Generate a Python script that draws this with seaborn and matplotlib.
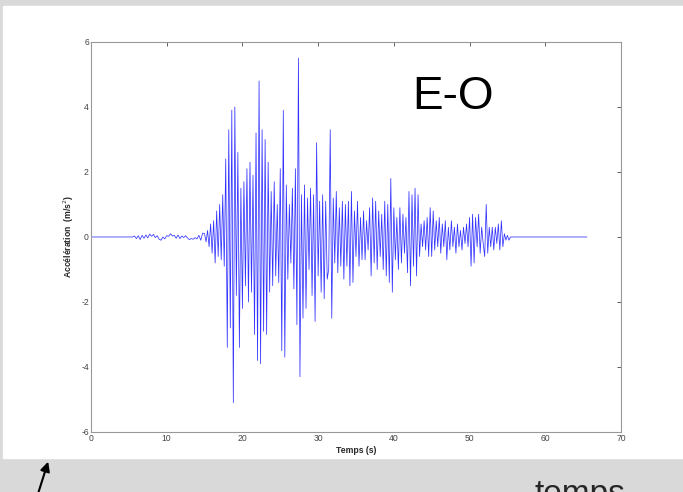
import numpy as np
import pandas as pd
import matplotlib
matplotlib.use("Agg")
import matplotlib.pyplot as plt
import seaborn as sns

# Accelerogram, E-O component (m/s^2)
quiet_start = 5.5      # s, first sample of the weak pre-event motion
quiet_dt = 0.25        # s between read samples
quiet_values = [0.0, 0.03, -0.05, 0.04, -0.08, 0.05, -0.04, 0.06, -0.03, 0.09,
                0.02, 0.08, -0.02, 0.04, -0.07, -0.10, 0.0, -0.06, 0.04, 0.02,
                0.10, 0.03, 0.05, -0.04, 0.06, -0.05, 0.03, -0.02, 0.04, -0.03,
                -0.08, -0.05, -0.07, -0.02, -0.06, 0.05, -0.10, 0.12]

strong_start = 15.0    # s, start of the strong motion
strong_dt = 0.2        # s between read peaks
strong_values = [
    0.1, -0.15, 0.2, -0.3, 0.4, -0.5, 0.5, -0.8, 0.8, -0.6,          # 15-17
    1.0, -0.7, 1.3, -0.9, 2.4, -3.4, 3.3, -2.8, 3.9, -5.1,           # 17-19
    4.0, -1.8, 2.6, -3.4, 1.5, -2.2, 1.7, -1.5, 2.1, -2.0,           # 19-21
    2.3, -1.7, 1.9, -3.0, 3.2, -3.8, 4.8, -3.9, 3.3, -2.9,           # 21-23
    3.0, -3.0, 2.3, -1.7, 1.4, -1.5, 1.7, -1.2, 1.0, -1.4,           # 23-25
    2.1, -3.5, 3.9, -3.7, 1.6, -1.3, 1.0, -0.8, 1.5, -1.6,           # 25-27
    2.1, -2.7, 5.5, -4.3, 1.3, -2.5, 1.6, -2.2, 1.2, -1.0,           # 27-29
    1.5, -1.8, 1.3, -2.6, 2.9, -1.2, 1.1, -1.7, 1.3, -1.9,           # 29-31
    1.1, -1.3, -1.0, 3.3, -2.5, 1.2, -0.8, 1.4, -1.1, 0.9,           # 31-33
    -0.9, 1.1, -1.3, 1.0, -0.9, 1.1, -1.5, 1.4, -1.4, 0.8,           # 33-35
    -0.6, 1.1, -0.9, 0.6, -0.7, 0.8, -0.7, 0.5, -0.4, 0.9,           # 35-37
    -1.2, 1.2, -0.8, 1.1, -1.0, 0.8, -0.6, 0.7, -1.0, 1.1,           # 37-39
    -1.2, 1.0, -1.4, 1.8, -1.7, 0.9, -0.7, 0.6, -1.0, 0.9,           # 39-41
    -0.8, 0.7, -0.5, 0.6, -1.1, 1.4, -1.5, 1.3, -0.9, 1.5,           # 41-43
    -1.2, 1.3, -0.6, 0.4, -0.3, 0.5, -0.4, 0.6, -0.6, 0.9,           # 43-45
    -0.6, 0.8, -0.4, 0.5, -0.3, 0.6, -0.5, 0.4, -0.3, 0.5,           # 45-47
    -0.7, 0.3, -0.4, 0.5, -0.3, 0.3, -0.5, 0.4, -0.3, 0.2,           # 47-49
    -0.4, 0.3, -0.2, 0.4, -0.3, 0.6, -0.9, 0.7, -0.8, 0.6,           # 49-51
    -0.3, 0.7, -0.5, 0.3, -0.2, -0.6, 1.0, -0.5, 0.3, -0.3,          # 51-53
    0.3, -0.4, 0.3, -0.2, 0.4, -0.4, 0.5, -0.3, 0.1, -0.1,           # 53-55
    0.05, -0.1, 0.0, 0.0]                                            # 55-55.6

record_end = 65.5      # s, end of the record (flat after the motion)

# build the time series
t_quiet = quiet_start + quiet_dt * np.arange(len(quiet_values))
t_strong = strong_start + strong_dt * np.arange(len(strong_values))
time = np.concatenate([[0.0], t_quiet, t_strong, [record_end]])
accel = np.concatenate([[0.0], quiet_values, strong_values, [0.0]])
df = pd.DataFrame({"Temps": time, "Acc": accel})

sns.set_style("white")
plt.rcParams["font.family"] = ["Liberation Sans", "DejaVu Sans"]
plt.rcParams["axes.unicode_minus"] = False

fig = plt.figure(figsize=(6.83, 4.92), dpi=100, facecolor="#d9d9d9")
# white slide area, kept behind the axes
fig.patches.append(plt.Rectangle((3 / 683, 34 / 492), 1, 452 / 492,
                                 transform=fig.transFigure, color="white", zorder=-10))

ax = fig.add_axes([0.1332, 0.122, 0.776, 0.7927])
ax.set_zorder(5)
sns.lineplot(data=df, x="Temps", y="Acc", color="blue", linewidth=0.55, alpha=0.8,
             estimator=None, sort=False, ax=ax)

ax.set_xlim(0, 70)
ax.set_ylim(-6, 6)
ax.set_xticks(range(0, 71, 10))
ax.set_yticks(range(-6, 7, 2))
ax.tick_params(direction="in", length=3, width=0.6, labelsize=6.2,
               colors="#444444", top=True, right=True, pad=1.5)
for s in ax.spines.values():
    s.set_color("#999999")
    s.set_linewidth(0.8)
ax.set_xlabel("Temps (s)", fontsize=6.2, fontweight="bold", labelpad=2)
ax.set_ylabel("Accélération  (m/s$^2$)", fontsize=6.2, fontweight="bold", labelpad=4)

ax.text(47.8, 4.3, "E-O", fontsize=33, ha="center", va="center", color="black")

# bits of the slide around the figure
fig.text(0.849, -0.022, "temps", fontsize=24, ha="center", va="baseline")
fig.add_artist(matplotlib.patches.FancyArrowPatch(
    (37 / 683, -0.01), (49 / 683, 33 / 492), transform=fig.transFigure,
    arrowstyle="-|>", color="black", lw=1.5, mutation_scale=14))

plt.savefig("out.png", dpi=100, facecolor=fig.get_facecolor())
